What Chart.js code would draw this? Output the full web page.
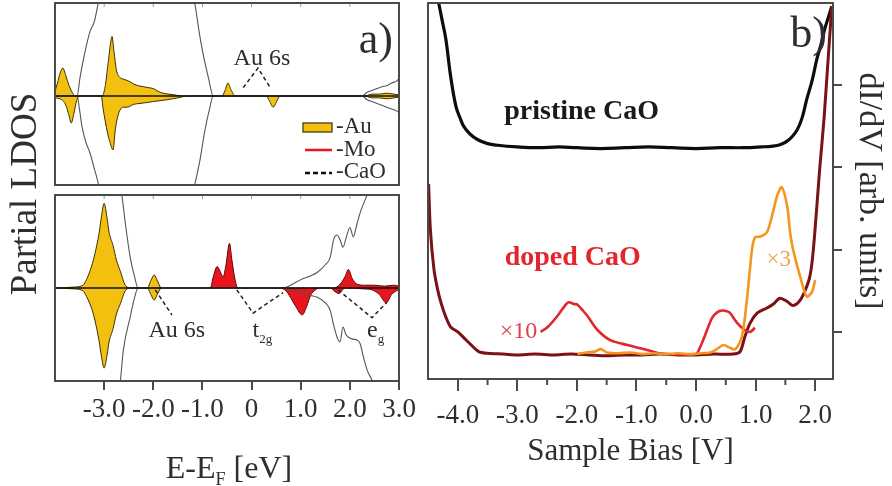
<!DOCTYPE html>
<html>
<head>
<meta charset="utf-8">
<script src="https://cdn.jsdelivr.net/npm/chart.js@4.4.1/dist/chart.umd.min.js"></script>
<style>
  body { margin: 0; background: #fff; }
  #fig { position: relative; width: 892px; height: 486px; overflow: hidden; }
  #fig canvas { position: absolute; left: 0; top: 0; }
</style>
</head>
<body>
<div id="fig">
  <canvas id="ldosTop" width="892" height="486"></canvas>
  <canvas id="ldosBottom" width="892" height="486"></canvas>
  <canvas id="stsBias" width="892" height="486"></canvas>
</div>
<script>
// ---- a) partial LDOS, upper panel (Au on CaO) ----
const topAuUpE = [-4.0, -3.95, -3.9, -3.84, -3.78, -3.72, -3.65, -3.59, -3.5, -3.04, -2.98, -2.92, -2.86, -2.84, -2.8, -2.75, -2.68, -2.6, -2.5, -2.4, -2.3, -2.2, -2.1, -2.0, -1.9, -1.8, -1.6, -1.4, -0.6, -0.54, -0.48, -0.42, -0.33, 2.3, 2.45, 2.6, 2.75, 2.9, 3.0];
const topAuUpD = [0.05, 0.14, 0.24, 0.30, 0.22, 0.12, 0.04, 0.0, 0.0, 0.0, 0.1, 0.35, 0.6, 0.64, 0.48, 0.28, 0.2, 0.18, 0.16, 0.13, 0.11, 0.1, 0.09, 0.08, 0.05, 0.03, 0.015, 0.0, 0.0, 0.06, 0.14, 0.07, 0.0, 0.0, 0.02, 0.02, 0.03, 0.02, 0.01];
const topAuDnE = [-4.0, -3.9, -3.84, -3.78, -3.72, -3.67, -3.62, -3.56, -3.5, -3.06, -3.02, -2.93, -2.88, -2.82, -2.77, -2.7, -2.6, -2.53, -2.4, -2.27, -2.0, -1.72, -1.5, -1.3, 0.3, 0.36, 0.44, 0.51, 0.58, 2.3, 2.45, 2.6, 2.75, 2.9, 3.0];
const topAuDnD = [-0.02, -0.03, -0.05, -0.1, -0.2, -0.29, -0.2, -0.05, 0.0, 0.0, -0.14, -0.4, -0.5, -0.58, -0.35, -0.18, -0.12, -0.12, -0.09, -0.08, -0.06, -0.04, -0.02, 0.0, 0.0, -0.05, -0.12, -0.06, 0.0, 0.0, -0.02, -0.02, -0.03, -0.02, -0.01];
const topCaoUpE = [-4.0, -3.55, -3.49, -3.4, -3.29, -3.2, -3.12, -3.0, -1.3, -1.15, -1.07, -0.99, -0.88, -0.78, 2.25, 2.35, 2.45, 2.55, 2.65, 2.75, 2.85, 2.95, 3.0];
const topCaoUpD = [0, 0, 0.2, 0.45, 0.69, 0.8, 1.0, 1.3, 1.3, 0.98, 0.7, 0.46, 0.2, 0, 0, 0.04, 0.06, 0.08, 0.1, 0.11, 0.14, 0.16, 0.19];
const topCaoDnE = [-4.0, -3.55, -3.5, -3.45, -3.37, -3.29, -3.2, -3.12, -3.0, -1.3, -1.15, -1.05, -0.95, -0.86, -0.78, 2.25, 2.35, 2.45, 2.55, 2.65, 2.75, 2.85, 2.95, 3.0];
const topCaoDnD = [0, 0, -0.15, -0.33, -0.5, -0.61, -0.78, -0.94, -1.3, -1.3, -0.94, -0.69, -0.37, -0.15, 0, 0, -0.04, -0.06, -0.08, -0.1, -0.12, -0.14, -0.16, -0.18];

// ---- a) partial LDOS, lower panel (Au + Mo dopant) ----
const botAuE = [-4.0, -3.6, -3.43, -3.36, -3.29, -3.22, -3.15, -3.1, -3.06, -3.0, -2.94, -2.9, -2.82, -2.75, -2.67, -2.57, -2.45, -2.12, -2.05, -1.98, -1.92, -1.85];
const botAuUpD = [0.0, 0.01, 0.03, 0.09, 0.18, 0.3, 0.46, 0.6, 0.75, 0.91, 0.75, 0.6, 0.46, 0.3, 0.18, 0.03, 0.0, 0.0, 0.08, 0.14, 0.08, 0.0];
const botAuDnD = [0.0, -0.01, -0.03, -0.09, -0.17, -0.28, -0.44, -0.58, -0.72, -0.86, -0.72, -0.58, -0.44, -0.28, -0.17, -0.03, 0.0, 0.0, -0.07, -0.13, -0.07, 0.0];
const botMoUpE = [-0.9, -0.84, -0.78, -0.7, -0.64, -0.58, -0.52, -0.45, -0.4, -0.34, -0.28, 1.6, 1.67, 1.8, 1.9, 1.97, 2.05, 2.15, 2.3, 2.5, 2.7, 2.9, 3.0];
const botMoUpD = [0, 0, 0.12, 0.23, 0.18, 0.12, 0.25, 0.48, 0.3, 0.1, 0, 0, 0, 0.04, 0.12, 0.2, 0.1, 0.04, 0.03, 0.03, 0.02, 0.03, 0.02];
const botMoDnE = [0.6, 0.7, 0.79, 0.9, 1.03, 1.12, 1.2, 1.3, 1.4, 1.6, 1.7, 1.78, 1.85, 1.9, 2.3, 2.45, 2.6, 2.74, 2.85, 2.95, 3.0];
const botMoDnD = [0, -0.03, -0.1, -0.2, -0.29, -0.2, -0.08, -0.02, 0, 0, -0.04, -0.06, -0.02, 0, -0.01, -0.02, -0.07, -0.16, -0.07, -0.03, -0.02];
const botCaoUpE = [-4.0, -2.8, -2.64, -2.57, -2.47, -2.38, -2.31, 0.65, 0.79, 1.0, 1.2, 1.34, 1.5, 1.6, 1.67, 1.74, 1.8, 1.86, 1.93, 2.0, 2.07, 2.14, 2.21, 2.35, 2.5, 3.0];
const botCaoUpD = [1.6, 1.4, 1.0, 0.7, 0.33, 0.12, 0, 0, 0.03, 0.09, 0.13, 0.17, 0.25, 0.33, 0.52, 0.57, 0.52, 0.44, 0.55, 0.65, 0.55, 0.68, 0.81, 1.0, 1.2, 1.4];
const botCaoDnE = [-4.0, -2.8, -2.67, -2.61, -2.47, -2.38, -2.31, 0.65, 0.79, 1.0, 1.2, 1.34, 1.5, 1.6, 1.67, 1.74, 1.8, 1.86, 1.92, 1.97, 2.06, 2.15, 2.21, 2.28, 2.35, 2.45, 2.6, 3.0];
const botCaoDnD = [-1.6, -1.4, -1.0, -0.67, -0.31, -0.1, 0, 0, -0.02, -0.05, -0.08, -0.1, -0.16, -0.24, -0.4, -0.53, -0.58, -0.42, -0.5, -0.53, -0.55, -0.56, -0.6, -0.75, -0.88, -0.99, -1.2, -1.4];
const energyTicks = [-3, -2, -1, 0, 1, 2, 3];

// ---- b) dI/dV spectra vs sample bias ----
const pristineV = [-4.32, -4.26, -4.2, -4.12, -4.03, -3.95, -3.9, -3.8, -3.67, -3.5, -3.33, -3.0, -2.66, -2.3, -2.0, -1.6, -1.2, -0.8, -0.4, 0.0, 0.4, 0.8, 1.1, 1.29, 1.42, 1.53, 1.62, 1.7, 1.78, 1.86, 1.95, 2.03, 2.1, 2.16, 2.22, 2.28];
const pristineG = [4.0, 3.78, 3.56, 3.11, 2.74, 2.58, 2.5, 2.41, 2.34, 2.29, 2.27, 2.25, 2.24, 2.25, 2.24, 2.23, 2.24, 2.25, 2.24, 2.23, 2.24, 2.24, 2.25, 2.26, 2.28, 2.32, 2.38, 2.46, 2.6, 2.83, 3.06, 3.32, 3.5, 3.68, 3.82, 3.96];
const dopedV = [-4.49, -4.46, -4.4, -4.34, -4.28, -4.2, -4.12, -4.0, -3.9, -3.83, -3.65, -3.5, -3.23, -3.0, -2.7, -2.4, -2.1, -1.8, -1.5, -1.2, -0.9, -0.6, -0.3, 0.0, 0.3, 0.62, 0.74, 0.82, 0.91, 1.03, 1.19, 1.3, 1.41, 1.53, 1.63, 1.72, 1.8, 1.91, 1.97, 2.08, 2.15, 2.21, 2.28];
const dopedG = [1.8, 1.24, 0.76, 0.52, 0.35, 0.18, 0.06, 0.0, -0.07, -0.12, -0.24, -0.26, -0.27, -0.28, -0.27, -0.28, -0.27, -0.28, -0.29, -0.28, -0.28, -0.27, -0.28, -0.28, -0.27, -0.27, -0.24, -0.06, 0.11, 0.23, 0.29, 0.34, 0.41, 0.37, 0.32, 0.36, 0.45, 0.67, 1.0, 2.01, 2.6, 3.23, 3.96];
const times10V = [-2.61, -2.49, -2.32, -2.2, -2.14, -2.05, -1.99, -1.9, -1.82, -1.65, -1.44, -1.15, -0.82, -0.55, -0.3, 0.0, 0.06, 0.12, 0.2, 0.27, 0.36, 0.44, 0.52, 0.57, 0.69, 0.82, 0.91, 0.99];
const times10G = [0.0, 0.06, 0.2, 0.32, 0.36, 0.34, 0.33, 0.26, 0.19, 0.02, -0.1, -0.16, -0.22, -0.27, -0.27, -0.27, -0.2, -0.1, 0.05, 0.17, 0.24, 0.26, 0.25, 0.23, 0.11, 0.02, 0.0, 0.05];
const times3V = [-1.99, -1.85, -1.7, -1.6, -1.5, -1.3, -1.1, -0.9, -0.7, -0.5, -0.3, -0.1, 0.1, 0.24, 0.35, 0.46, 0.56, 0.66, 0.77, 0.86, 0.94, 0.99, 1.08, 1.19, 1.29, 1.36, 1.44, 1.53, 1.58, 1.63, 1.75, 1.86, 1.95, 2.0];
const times3G = [-0.27, -0.25, -0.24, -0.21, -0.25, -0.26, -0.25, -0.27, -0.26, -0.27, -0.26, -0.27, -0.26, -0.25, -0.21, -0.16, -0.19, -0.21, -0.06, 0.43, 1.0, 1.15, 1.16, 1.21, 1.45, 1.65, 1.76, 1.53, 1.21, 1.0, 0.67, 0.43, 0.49, 0.63];
const biasTicks = [-4, -3, -2, -1, 0, 1, 2];
const biasMinor = [-3.5, -2.5, -1.5, -0.5, 0.5, 1.5];
const dIdVTicks = [0, 1, 2, 3];

const SERIF = "'Liberation Serif', 'Times New Roman', serif";
const INK = '#2e2e2e';
const AU_FILL = '#f4c010', AU_EDGE = '#3b2f00';
const MO_FILL = '#e8151c', MO_EDGE = '#5e0505';

function pts(xs, ys) {
  return xs.map((x, i) => ({ x: x, y: ys[i] }));
}

function filled(xs, ys, fill, edge) {
  return { data: pts(xs, ys), fill: 'origin', backgroundColor: fill, borderColor: edge,
           borderWidth: 1, pointRadius: 0, cubicInterpolationMode: 'monotone' };
}

function thin(xs, ys) {
  return { data: pts(xs, ys), fill: false, borderColor: '#555', borderWidth: 1.1,
           pointRadius: 0, cubicInterpolationMode: 'monotone' };
}

function trace(xs, ys, color, width) {
  return { data: pts(xs, ys), fill: false, borderColor: color, borderWidth: width,
           pointRadius: 0, tension: 0.3 };
}

// text with an optional subscript, e.g. t_2g, e_g, E-E_F
function drawSubText(ctx, main, sub, tail, x, y, size, align) {
  ctx.font = size + 'px ' + SERIF;
  const subFont = Math.round(size * 0.55) + 'px ' + SERIF;
  const w1 = ctx.measureText(main).width;
  ctx.font = subFont;
  const w2 = sub ? ctx.measureText(sub).width : 0;
  ctx.font = size + 'px ' + SERIF;
  const w3 = tail ? ctx.measureText(tail).width : 0;
  let x0 = x;
  if (align === 'center') x0 = x - (w1 + w2 + w3) / 2;
  ctx.textAlign = 'left';
  ctx.textBaseline = 'alphabetic';
  ctx.fillText(main, x0, y);
  if (sub) {
    ctx.font = subFont;
    ctx.fillText(sub, x0 + w1, y + size * 0.22);
  }
  if (tail) {
    ctx.font = size + 'px ' + SERIF;
    ctx.fillText(tail, x0 + w1 + w2, y);
  }
}

// frame, zero line, small ticks, dashed leaders and notes
const panelDecor = {
  id: 'panelDecor',
  afterDatasetsDraw(chart, args, opts) {
    const ctx = chart.ctx, a = chart.chartArea;
    const xs = chart.scales.x, ys = chart.scales.y;
    ctx.save();
    if (opts.zeroLine) {
      const y0 = ys.getPixelForValue(0);
      ctx.strokeStyle = '#111';
      ctx.lineWidth = 1.6;
      ctx.beginPath(); ctx.moveTo(a.left, y0); ctx.lineTo(a.right, y0); ctx.stroke();
    }
    if (opts.topTicks) {
      ctx.strokeStyle = '#9a9a9a';
      ctx.lineWidth = 1;
      opts.topTicks.forEach(v => {
        const px = xs.getPixelForValue(v);
        ctx.beginPath(); ctx.moveTo(px, a.top); ctx.lineTo(px, a.top + 4); ctx.stroke();
      });
    }
    if (opts.minorTicks) {
      ctx.strokeStyle = '#4a4a4a';
      ctx.lineWidth = 2;
      opts.minorTicks.forEach(v => {
        const px = xs.getPixelForValue(v);
        ctx.beginPath(); ctx.moveTo(px, a.bottom); ctx.lineTo(px, a.bottom + 6); ctx.stroke();
      });
    }
    ctx.strokeStyle = '#4a4a4a';
    ctx.lineWidth = 2;
    ctx.strokeRect(a.left, a.top, a.right - a.left, a.bottom - a.top);

    ctx.strokeStyle = '#222';
    ctx.lineWidth = 1.5;
    ctx.setLineDash([4, 3]);
    (opts.leaders || []).forEach(path => {
      ctx.beginPath();
      path.forEach((p, i) => {
        const px = xs.getPixelForValue(p[0]), py = ys.getPixelForValue(p[1]);
        if (i === 0) ctx.moveTo(px, py); else ctx.lineTo(px, py);
      });
      ctx.stroke();
    });
    ctx.setLineDash([]);

    (opts.notes || []).forEach(n => {
      ctx.fillStyle = n.color || INK;
      const px = xs.getPixelForValue(n.x), py = ys.getPixelForValue(n.y);
      if (n.bold) {
        ctx.font = 'bold ' + n.size + 'px ' + SERIF;
        ctx.textAlign = 'center';
        ctx.textBaseline = 'middle';
        ctx.fillText(n.text, px, py);
      } else {
        drawSubText(ctx, n.text, n.sub, null, px, py, n.size, n.align || 'center');
      }
    });

    if (opts.tag) {
      ctx.fillStyle = INK;
      ctx.font = '44px ' + SERIF;
      ctx.textAlign = 'right';
      ctx.textBaseline = 'alphabetic';
      ctx.fillText(opts.tag, a.right - 6, a.top + opts.tagDrop);
    }

    if (opts.legend) {
      const lx = a.right - 96;
      ctx.fillStyle = AU_FILL;
      ctx.fillRect(lx, 123, 29, 9);
      ctx.strokeStyle = AU_EDGE; ctx.lineWidth = 1.2;
      ctx.strokeRect(lx, 123, 29, 9);
      ctx.strokeStyle = MO_FILL; ctx.lineWidth = 2.5;
      ctx.beginPath(); ctx.moveTo(lx + 2, 150); ctx.lineTo(lx + 29, 150); ctx.stroke();
      ctx.strokeStyle = '#111'; ctx.lineWidth = 2.5;
      ctx.setLineDash([5, 3]);
      ctx.beginPath(); ctx.moveTo(lx + 2, 173); ctx.lineTo(lx + 29, 173); ctx.stroke();
      ctx.setLineDash([]);
      ctx.fillStyle = INK;
      ctx.font = '23px ' + SERIF;
      ctx.textAlign = 'left';
      ctx.textBaseline = 'middle';
      ctx.fillText('-Au', lx + 33, 127);
      ctx.fillText('-Mo', lx + 33, 150);
      ctx.fillText('-CaO', lx + 33, 172);
    }

    if (opts.energyTitle) {
      ctx.fillStyle = INK;
      drawSubText(ctx, 'E-E', 'F', ' [eV]', (a.left + a.right) / 2 + 2, a.bottom + 97, 32, 'center');
      // shared y title for both LDOS panels
      ctx.save();
      ctx.translate(a.left - 29, 194);
      ctx.rotate(-Math.PI / 2);
      ctx.font = '37px ' + SERIF;
      ctx.textAlign = 'center';
      ctx.textBaseline = 'middle';
      ctx.fillText('Partial LDOS', 0, 0);
      ctx.restore();
    }
    ctx.restore();
  }
};

const baseOptions = {
  responsive: false,
  animation: false,
  events: [],
  plugins: { legend: { display: false }, tooltip: { enabled: false } }
};

// upper LDOS panel
new Chart(document.getElementById('ldosTop'), {
  type: 'line',
  data: {
    datasets: [
      thin(topCaoUpE, topCaoUpD),
      thin(topCaoDnE, topCaoDnD),
      filled(topAuUpE, topAuUpD, AU_FILL, AU_EDGE),
      filled(topAuDnE, topAuDnD, AU_FILL, AU_EDGE)
    ]
  },
  options: Object.assign({}, baseOptions, {
    layout: { padding: { left: 55, right: 493, top: 3, bottom: 301 } },
    scales: {
      x: { type: 'linear', min: -4, max: 3, display: false },
      y: { min: -0.957, max: 1, display: false }
    },
    plugins: Object.assign({}, baseOptions.plugins, {
      panelDecor: {
        zeroLine: true,
        topTicks: [-3, -2, -1, 0, 1, 2],
        tag: 'a)', tagDrop: 50,
        legend: true,
        leaders: [[[-0.17, 0.09], [0.13, 0.3], [0.38, 0.09]]],
        notes: [{ text: 'Au 6s', x: 0.21, y: 0.33, size: 24 }]
      }
    })
  }),
  plugins: [panelDecor]
});

// lower LDOS panel
new Chart(document.getElementById('ldosBottom'), {
  type: 'line',
  data: {
    datasets: [
      thin(botCaoUpE, botCaoUpD),
      thin(botCaoDnE, botCaoDnD),
      filled(botAuE, botAuUpD, AU_FILL, AU_EDGE),
      filled(botAuE, botAuDnD, AU_FILL, AU_EDGE),
      filled(botMoUpE, botMoUpD, MO_FILL, MO_EDGE),
      filled(botMoDnE, botMoDnD, MO_FILL, MO_EDGE)
    ]
  },
  options: Object.assign({}, baseOptions, {
    layout: { padding: { left: 55, right: 493, top: 195, bottom: 55 } },
    scales: {
      x: {
        type: 'linear', min: -4, max: 3,
        afterBuildTicks: s => { s.ticks = energyTicks.map(v => ({ value: v })); },
        afterFit: s => { s.height = 50; },
        border: { display: false },
        grid: { drawOnChartArea: false, drawTicks: true, tickLength: 9, color: '#4a4a4a', lineWidth: 2 },
        ticks: {
          autoSkip: false, maxRotation: 0, padding: 4, color: INK,
          font: { family: SERIF, size: 27 },
          callback: v => (v === 0 ? '0' : v.toFixed(1))
        }
      },
      y: { min: -1, max: 1, display: false }
    },
    plugins: Object.assign({}, baseOptions.plugins, {
      panelDecor: {
        zeroLine: true,
        topTicks: [-3, -2, -1, 0, 1, 2],
        energyTitle: true,
        leaders: [
          [[-1.96, -0.02], [-1.62, -0.29]],
          [[-0.3, -0.02], [0.03, -0.27], [0.64, -0.05]],
          [[1.76, -0.02], [2.45, -0.32], [2.76, -0.15]]
        ],
        notes: [
          { text: 'Au 6s', x: -1.52, y: -0.53, size: 24 },
          { text: 't', sub: '2g', x: 0.02, y: -0.53, size: 24, align: 'left' },
          { text: 'e', sub: 'g', x: 2.35, y: -0.53, size: 24, align: 'left' }
        ]
      }
    })
  }),
  plugins: [panelDecor]
});

// dI/dV spectra
new Chart(document.getElementById('stsBias'), {
  type: 'line',
  data: {
    datasets: [
      trace(times3V, times3G, '#f4961e', 2.6),
      trace(times10V, times10G, '#e2262c', 2.6),
      trace(dopedV, dopedG, '#7a1114', 3),
      Object.assign(trace(pristineV, pristineG, '#0d0d0d', 3.2), { tension: 0.4 })
    ]
  },
  options: Object.assign({}, baseOptions, {
    layout: { padding: { left: 428, right: 3, top: 3, bottom: 16 } },
    scales: {
      x: {
        type: 'linear', min: -4.5, max: 2.3,
        afterBuildTicks: s => { s.ticks = biasTicks.map(v => ({ value: v })); },
        afterFit: s => { s.height = 91; },
        border: { display: false },
        grid: { drawOnChartArea: false, drawTicks: true, tickLength: 12, color: '#4a4a4a', lineWidth: 2 },
        ticks: {
          autoSkip: false, maxRotation: 0, padding: 9, color: INK,
          font: { family: SERIF, size: 27 },
          callback: v => v.toFixed(1)
        },
        title: {
          display: true, text: 'Sample Bias [V]', color: INK,
          font: { family: SERIF, size: 31 }, padding: 0
        }
      },
      y: {
        position: 'right', min: -0.573, max: 4,
        afterBuildTicks: s => { s.ticks = dIdVTicks.map(v => ({ value: v })); },
        afterFit: s => { s.width = 56; },
        border: { display: false },
        grid: { drawOnChartArea: false, drawTicks: true, tickLength: 9, color: '#4a4a4a', lineWidth: 2 },
        ticks: { display: false },
        title: {
          display: true, text: 'dI/dV [arb. units]', color: INK,
          font: { family: SERIF, size: 34 }, padding: 0
        }
      }
    },
    plugins: Object.assign({}, baseOptions.plugins, {
      panelDecor: {
        minorTicks: biasMinor,
        tag: 'b)', tagDrop: 44,
        notes: [
          { text: 'pristine CaO', x: -1.92, y: 2.68, size: 28, bold: true, color: '#1a1a1a' },
          { text: 'doped CaO', x: -2.07, y: 0.9, size: 28, bold: true, color: '#e2262c' },
          { text: '×10', x: -2.98, y: -0.08, size: 24, color: '#e04048' },
          { text: '×3', x: 1.39, y: 0.8, size: 23, color: '#f0a448' }
        ]
      }
    })
  }),
  plugins: [panelDecor]
});
</script>
</body>
</html>
